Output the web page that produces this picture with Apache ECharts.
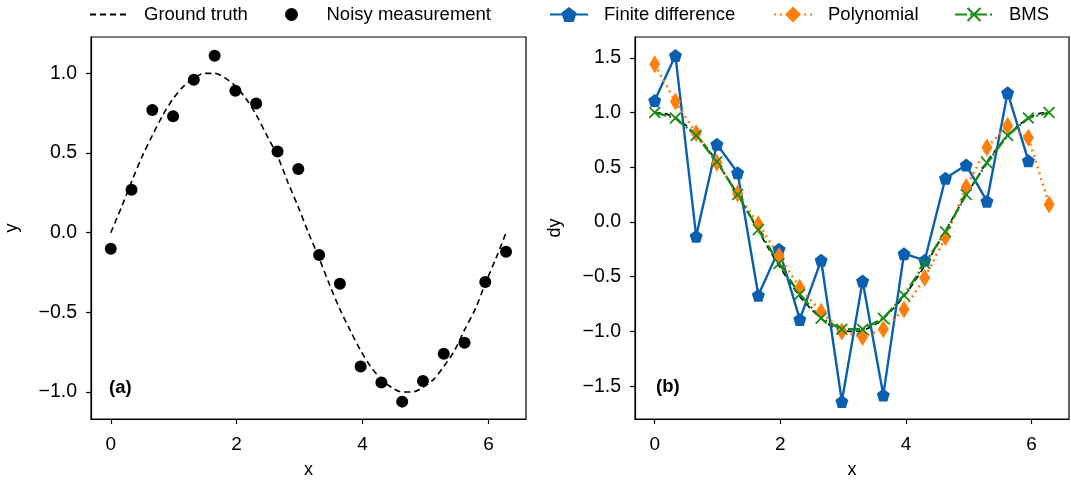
<!DOCTYPE html>
<html>
<head>
<meta charset="utf-8">
<script src="https://cdn.jsdelivr.net/npm/echarts@6/dist/echarts.min.js"></script>
<style>
html, body { margin: 0; padding: 0; background: #fff; }
#chart { width: 1071px; height: 486px; }
</style>
</head>
<body>
<div id="chart"></div>
<script>
// sample positions (20 measurements on [0, 2pi])
var xs = [0, 0.33, 0.66, 0.99, 1.32, 1.65, 1.98, 2.31, 2.65, 2.98, 3.31, 3.64, 3.97, 4.30, 4.63, 4.96, 5.29, 5.62, 5.95, 6.28];
// fine positions for the smooth ground truth curves
var xsFine = [0, 0.17, 0.33, 0.50, 0.66, 0.83, 0.99, 1.16, 1.32, 1.49, 1.65, 1.82, 1.98, 2.15, 2.31, 2.48, 2.65, 2.81, 2.98, 3.14,
  3.31, 3.47, 3.64, 3.80, 3.97, 4.13, 4.30, 4.46, 4.63, 4.79, 4.96, 5.13, 5.29, 5.46, 5.62, 5.79, 5.95, 6.12, 6.28];
var truthY = [0, 0.16, 0.32, 0.48, 0.61, 0.74, 0.84, 0.92, 0.97, 1.00, 1.00, 0.97, 0.92, 0.84, 0.74, 0.61, 0.48, 0.32, 0.16, 0,
  -0.16, -0.32, -0.48, -0.61, -0.74, -0.84, -0.92, -0.97, -1.00, -1.00, -0.97, -0.92, -0.84, -0.74, -0.61, -0.48, -0.32, -0.16, 0];
var truthDy = [1.00, 0.99, 0.95, 0.88, 0.79, 0.68, 0.55, 0.40, 0.25, 0.08, -0.08, -0.25, -0.40, -0.55, -0.68, -0.79, -0.88, -0.95, -0.99, -1.00,
  -0.99, -0.95, -0.88, -0.79, -0.68, -0.55, -0.40, -0.25, -0.08, 0.08, 0.25, 0.40, 0.55, 0.68, 0.79, 0.88, 0.95, 0.99, 1.00];
var noisyY = [-0.10, 0.27, 0.77, 0.73, 0.96, 1.11, 0.89, 0.81, 0.51, 0.40, -0.14, -0.32, -0.84, -0.94, -1.06, -0.93, -0.76, -0.69, -0.31, -0.12];
var finiteDiff = [1.11, 1.52, -0.13, 0.71, 0.45, -0.67, -0.25, -0.89, -0.35, -1.64, -0.54, -1.58, -0.29, -0.35, 0.40, 0.52, 0.19, 1.18, 0.56];
var polynomial = [1.44, 1.10, 0.81, 0.54, 0.26, -0.02, -0.31, -0.60, -0.82, -1.00, -1.05, -0.98, -0.80, -0.51, -0.14, 0.32, 0.68, 0.88, 0.77, 0.16];
var bms = [1.00, 0.95, 0.79, 0.55, 0.25, -0.07, -0.38, -0.66, -0.88, -0.98, -0.98, -0.88, -0.67, -0.38, -0.09, 0.25, 0.54, 0.79, 0.95, 1.00];

var xTicks = [0, 2, 4, 6];
var yTicksA = [-1, -0.5, 0, 0.5, 1];
var yTicksB = [-1.5, -1, -0.5, 0, 0.5, 1, 1.5];

function pairs(x, y) {
  return y.map(function (v, i) { return [x[i], v]; });
}

var FONT = 'Liberation Sans';
var pentagon = 'path://M0,-1 L0.951,-0.309 L0.588,0.809 L-0.588,0.809 L-0.951,-0.309 Z';
var cross = 'path://M1,0 L5,4 L9,0 L10,1 L6,5 L10,9 L9,10 L5,6 L1,10 L0,9 L4,5 L0,1 Z';
var BLUE = '#0a60b0', ORANGE = '#ff7f0e', GREEN = '#158a15';

function fmtY(v) {
  return (v < 0 ? '\u2212' : '') + Math.abs(v).toFixed(1);
}

function xAxisFor(idx) {
  return {
    type: 'value', gridIndex: idx, min: -0.314, max: 6.597,
    name: 'x', nameLocation: 'middle', nameGap: 42,
    nameTextStyle: { fontFamily: FONT, fontSize: 18, color: '#000' },
    axisLine: { show: true, onZero: false, lineStyle: { color: '#000', width: 1.2 } },
    axisTick: { show: true, length: 5, customValues: xTicks, lineStyle: { color: '#000', width: 1.2 } },
    axisLabel: { customValues: xTicks, margin: 16, fontFamily: FONT, fontSize: 19, color: '#000' },
    splitLine: { show: false }
  };
}

function yAxisFor(idx, min, max, ticks, name, gap) {
  return {
    type: 'value', gridIndex: idx, min: min, max: max,
    name: name, nameLocation: 'middle', nameGap: gap, nameRotate: 90,
    nameTextStyle: { fontFamily: FONT, fontSize: 18, color: '#000' },
    axisLine: { show: true, onZero: false, lineStyle: { color: '#000', width: 1.2 } },
    axisTick: { show: true, length: 5, customValues: ticks, lineStyle: { color: '#000', width: 1.2 } },
    axisLabel: { customValues: ticks, margin: 14, fontFamily: FONT, fontSize: 19.5, color: '#000', formatter: fmtY },
    splitLine: { show: false }
  };
}

function legendAt(item, left, h) {
  return {
    data: [item], left: left, top: 5, padding: 0,
    itemWidth: 38, itemHeight: h,
    textStyle: { fontFamily: FONT, fontSize: 18.5, color: '#000', padding: [0, 0, 0, 11] }
  };
}

var chart = echarts.init(document.getElementById('chart'));
chart.setOption({
  animation: false,
  backgroundColor: '#fff',
  legend: [
    legendAt({ name: 'Ground truth', itemStyle: { opacity: 0 } }, 89, 16),
    legendAt('Noisy measurement', 285, 13),
    legendAt('Finite difference', 549, 19),
    legendAt('Polynomial', 773, 20),
    legendAt('BMS', 954, 18)
  ],
  grid: [
    { left: 91, top: 37, width: 435, height: 382, show: true, borderColor: '#000', borderWidth: 1.2, backgroundColor: 'transparent' },
    { left: 635, top: 37, width: 434, height: 382, show: true, borderColor: '#000', borderWidth: 1.2, backgroundColor: 'transparent' }
  ],
  xAxis: [xAxisFor(0), xAxisFor(1)],
  yAxis: [
    yAxisFor(0, -1.169, 1.228, yTicksA, 'y', 70),
    yAxisFor(1, -1.80, 1.69, yTicksB, 'dy', 71)
  ],
  graphic: [
    { type: 'text', left: 109, top: 378, style: { text: '(a)', fontFamily: FONT, fontSize: 18.5, fontWeight: 'bold', fill: '#000' } },
    { type: 'text', left: 656, top: 377, style: { text: '(b)', fontFamily: FONT, fontSize: 18.5, fontWeight: 'bold', fill: '#000' } }
  ],
  series: [
    {
      name: 'Ground truth', type: 'line', xAxisIndex: 0, yAxisIndex: 0,
      data: pairs(xsFine, truthY), smooth: 0.3, showSymbol: false, symbol: 'none',
      lineStyle: { color: '#000', width: 1.6, type: [6, 4] }, itemStyle: { color: '#000' }
    },
    {
      name: 'Noisy measurement', type: 'scatter', xAxisIndex: 0, yAxisIndex: 0,
      data: pairs(xs, noisyY), symbol: 'circle', symbolSize: 12,
      itemStyle: { color: '#000', opacity: 1 }
    },
    {
      name: 'Ground truth', type: 'line', xAxisIndex: 1, yAxisIndex: 1,
      data: pairs(xsFine, truthDy), smooth: 0.3, showSymbol: false, symbol: 'none',
      lineStyle: { color: '#000', width: 1.6, type: [6, 4] }, itemStyle: { color: '#000' }
    },
    {
      name: 'Finite difference', type: 'line', xAxisIndex: 1, yAxisIndex: 1,
      data: pairs(xs, finiteDiff), symbol: pentagon, symbolSize: 13, showAllSymbol: true,
      lineStyle: { color: BLUE, width: 2.4 }, itemStyle: { color: BLUE }
    },
    {
      name: 'Polynomial', type: 'line', xAxisIndex: 1, yAxisIndex: 1,
      data: pairs(xs, polynomial), symbol: 'diamond', symbolSize: [11, 18], showAllSymbol: true,
      lineStyle: { color: ORANGE, width: 2.6, type: [2, 4] }, itemStyle: { color: ORANGE }
    },
    {
      name: 'BMS', type: 'line', xAxisIndex: 1, yAxisIndex: 1,
      data: pairs(xs, bms), symbol: cross, symbolSize: 12, showAllSymbol: true,
      lineStyle: { color: GREEN, width: 2.4, type: [12, 3, 2, 3] }, itemStyle: { color: GREEN }
    }
  ]
});
</script>
</body>
</html>
